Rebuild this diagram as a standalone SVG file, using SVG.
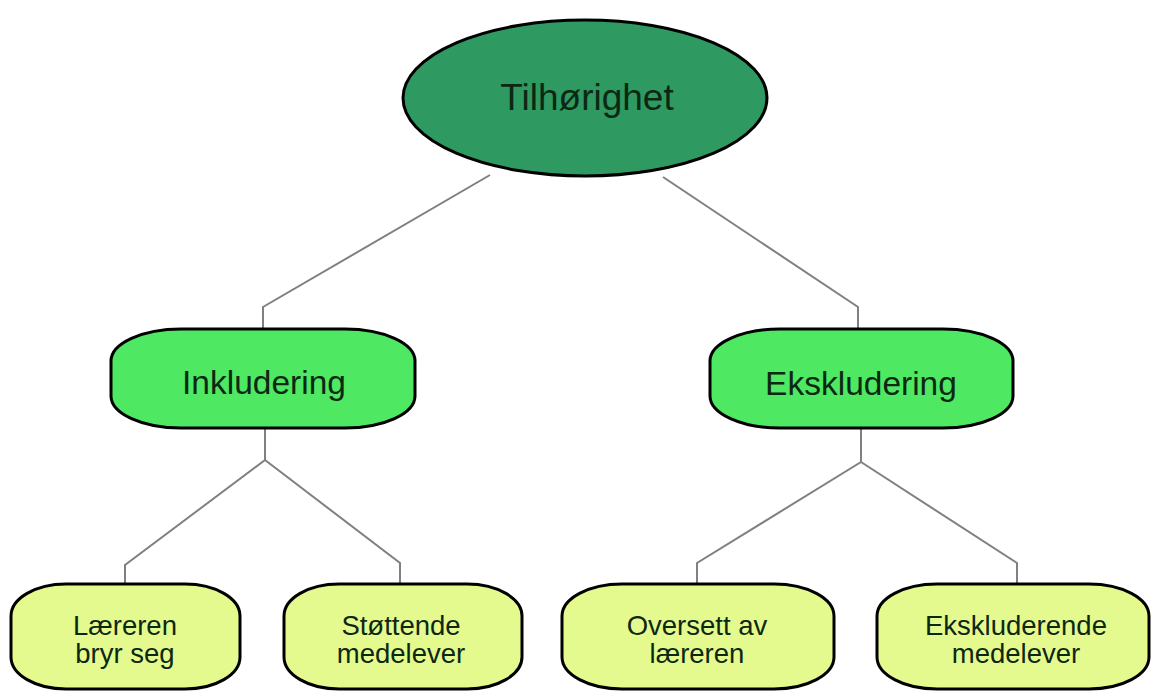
<svg xmlns="http://www.w3.org/2000/svg" width="1154" height="692" viewBox="0 0 1154 692">
<style>
.conn{fill:none;stroke:#808080;stroke-width:2}
.root{fill:#2e9a62;stroke:#000;stroke-width:3}
.mid{fill:#4ee862;stroke:#000;stroke-width:3}
.leaf{fill:#e4fa8e;stroke:#000;stroke-width:3}
text{font-family:"Liberation Sans",Arial,sans-serif;fill:#0d2812;text-anchor:middle}
.t1{font-size:37px}
.t2{font-size:33.5px}
.t3{font-size:27.5px}
</style>
<rect width="1154" height="692" fill="#fff"/>
<g id="connectors">
<polyline class="conn" points="490,175 263,307 263,328"/>
<polyline class="conn" points="663,177 858,307 858,328"/>
<polyline class="conn" points="265,428 265,460 125,565 125,583"/>
<polyline class="conn" points="265,460 400,563 400,583"/>
<polyline class="conn" points="861,428 861,462 697,563 697,583"/>
<polyline class="conn" points="861,462 1017,563 1017,583"/>
</g>
<g id="n-tilhorighet">
<ellipse class="root" cx="585" cy="98" rx="182" ry="78"/>
<text class="t1" x="587" y="110">Tilhørighet</text>
</g>
<g id="n-inkludering">
<rect class="mid" x="111" y="329" width="304" height="99" rx="70" ry="32"/>
<text class="t2" x="264" y="394">Inkludering</text>
</g>
<g id="n-ekskludering">
<rect class="mid" x="710" y="329" width="303" height="99" rx="70" ry="32"/>
<text class="t2" x="861" y="395">Ekskludering</text>
</g>
<g id="n-laereren">
<rect class="leaf" x="11" y="584" width="229" height="105" rx="55" ry="32"/>
<text class="t3" x="125" y="635">Læreren<tspan x="125" dy="28">bryr seg</tspan></text>
</g>
<g id="n-stottende">
<rect class="leaf" x="284" y="584" width="238" height="105" rx="55" ry="32"/>
<text class="t3" x="401" y="635">Støttende<tspan x="401" dy="28">medelever</tspan></text>
</g>
<g id="n-oversett">
<rect class="leaf" x="562" y="584" width="272" height="105" rx="60" ry="32"/>
<text class="t3" x="697" y="635">Oversett av<tspan x="697" dy="28">læreren</tspan></text>
</g>
<g id="n-ekskluderende">
<rect class="leaf" x="877" y="584" width="272" height="105" rx="60" ry="32"/>
<text class="t3" x="1016" y="635">Ekskluderende<tspan x="1016" dy="28">medelever</tspan></text>
</g>
</svg>
